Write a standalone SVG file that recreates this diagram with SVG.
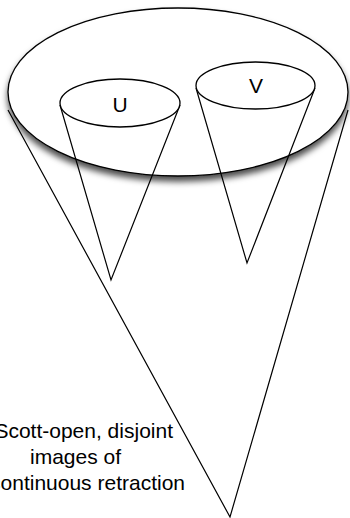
<svg xmlns="http://www.w3.org/2000/svg" width="350" height="518" viewBox="0 0 350 518">
<defs>
<filter id="shadow" x="-10%" y="-10%" width="120%" height="130%">
<feDropShadow dx="0" dy="5" stdDeviation="3" flood-color="#000" flood-opacity="0.7"/>
</filter>
</defs>
<style>
.ln{stroke:#000;stroke-width:1.2;fill:none}
.el{stroke:#000;stroke-width:1.3;fill:#fff}
.lbl{font-family:"Liberation Sans",Arial,sans-serif;font-size:21px;fill:#000}
</style>
<rect width="350" height="518" fill="#fff"/>
<g id="connectors">
<polyline class="ln" points="8,110 230,517 348,110"/>
</g>
<g id="space">
<ellipse class="el" cx="178" cy="92" rx="170" ry="84" filter="url(#shadow)"/>
</g>
<g id="coneU">
<polyline class="ln" points="60,105 111,280 180,105"/>
<ellipse class="el" cx="120" cy="103" rx="60" ry="24"/>
<text class="lbl" x="120" y="112" text-anchor="middle">U</text>
</g>
<g id="coneV">
<polyline class="ln" points="196,88 247,263 315,88"/>
<ellipse class="el" cx="255.5" cy="85.5" rx="59.5" ry="23.5"/>
<text class="lbl" x="256" y="93" text-anchor="middle">V</text>
</g>
<g id="caption">
<text class="lbl" x="173" y="438" text-anchor="end">Scott-open, disjoint</text>
<text class="lbl" x="30" y="464">images of</text>
<text class="lbl" x="185" y="490" text-anchor="end">continuous retraction</text>
</g>
</svg>
